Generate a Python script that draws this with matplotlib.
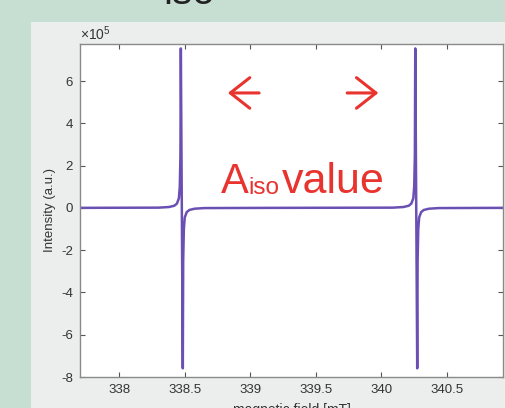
import matplotlib.pyplot as plt
from matplotlib.patches import Rectangle

plt.rcParams['font.family'] = ['Liberation Sans', 'DejaVu Sans']
plt.rcParams['axes.unicode_minus'] = False
plt.rcParams['mathtext.fontset'] = 'custom'
plt.rcParams['mathtext.rm'] = 'Liberation Sans'

# spectrum (field in mT, intensity in units of 1e5)
field = [337.70, 338.30, 338.38, 338.42, 338.44, 338.455, 338.462, 338.467,
         338.470, 338.4775, 338.485, 338.488, 338.493, 338.500, 338.515,
         338.535, 338.575, 338.65, 339.20,
         340.09, 340.17, 340.21, 340.23, 340.245, 340.252, 340.257,
         340.260, 340.2675, 340.275, 340.278, 340.283, 340.290, 340.305,
         340.325, 340.365, 340.44, 340.93]
intensity = [0, 0.01, 0.04, 0.10, 0.20, 0.45, 1.0, 2.5,
             7.54, 0, -7.59, -2.5, -1.0, -0.45, -0.20,
             -0.10, -0.04, -0.01, 0,
             0.01, 0.04, 0.10, 0.20, 0.45, 1.0, 2.5,
             7.54, 0, -7.59, -2.5, -1.0, -0.45, -0.20,
             -0.10, -0.04, -0.01, 0]

x_ticks = [338, 338.5, 339, 339.5, 340, 340.5]
y_ticks = [-8, -6, -4, -2, 0, 2, 4, 6]

fig = plt.figure(figsize=(5.06, 4.08), dpi=100, facecolor='#c7dfd3')
# light grey panel behind the plot
fig.patches.append(Rectangle((31 / 506, 0), 1, 1 - 22 / 408, transform=fig.transFigure,
                             facecolor='#eceeed', edgecolor='none', zorder=-10))
# bottom of the cut-off slide title
fig.text(163 / 506, 1 - 4 / 408, 'iso', fontsize=29, color='#222222', va='baseline')

ax = fig.add_axes([80 / 506, 31 / 408, 423 / 506, 333 / 408])
ax.set_zorder(2)
ax.set_facecolor('white')
ax.plot(field, intensity, color='#6b50b4', lw=1.8)

ax.set_xlim(337.70, 340.93)
ax.set_ylim(-8, 7.75)
ax.set_xticks(x_ticks)
ax.set_xticklabels([f'{t:g}' for t in x_ticks])
ax.set_yticks(y_ticks)
ax.set_yticklabels([str(t) for t in y_ticks])
# exponent label like MATLAB's
ax.text(0, 1.012, r'$\times$10$^{5}$', transform=ax.transAxes, fontsize=10,
        color='#333333', va='baseline', ha='left')

ax.tick_params(direction='in', top=True, right=True, length=3.5, width=0.8,
               color='#555555', labelsize=9.5, labelcolor='#333333', pad=5)
for s in ax.spines.values():
    s.set_color('#8a8a8a')
    s.set_linewidth(1.0)

ax.set_ylabel('Intensity (a.u.)', fontsize=9.5, color='#333333', labelpad=4)
ax.set_xlabel('magnetic field [mT]', fontsize=10, color='#333333', labelpad=5)

# annotation
red = '#e8332e'
ax.annotate('', xy=(0.343, 0.853), xytext=(0.430, 0.853), xycoords='axes fraction',
            arrowprops=dict(arrowstyle='->,head_length=0.7,head_width=0.55',
                            color=red, lw=2.2, mutation_scale=20))
ax.annotate('', xy=(0.712, 0.853), xytext=(0.625, 0.853), xycoords='axes fraction',
            arrowprops=dict(arrowstyle='->,head_length=0.7,head_width=0.55',
                            color=red, lw=2.2, mutation_scale=20))
ax.text(0.334, 0.553, 'A', transform=ax.transAxes, fontsize=30, color=red, va='baseline')
ax.text(0.397, 0.549, 'iso', transform=ax.transAxes, fontsize=17.5, color=red,
        va='baseline')
ax.text(0.478, 0.553, 'value', transform=ax.transAxes, fontsize=31, color=red,
        va='baseline')

fig.savefig('out.png', dpi=100, facecolor=fig.get_facecolor())
